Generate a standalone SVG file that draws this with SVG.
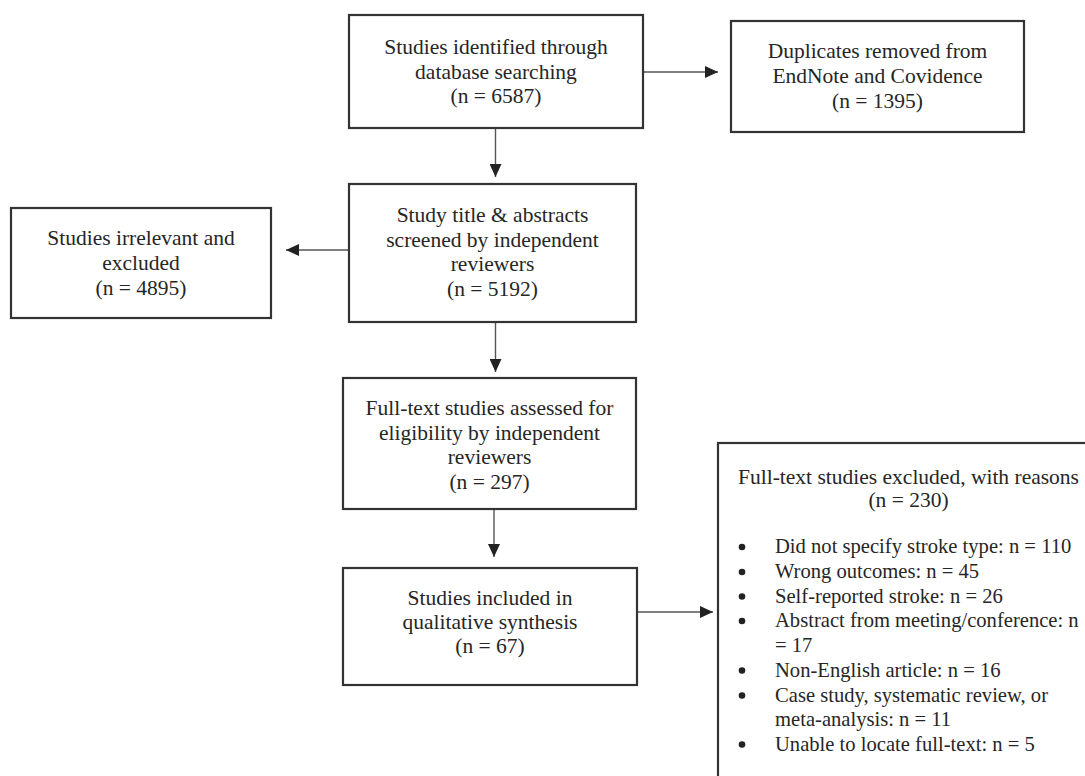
<svg xmlns="http://www.w3.org/2000/svg" width="1085" height="776" viewBox="0 0 1085 776">
<defs>
<style>
.box{fill:#fff;stroke:#333;stroke-width:2.2}
.t{font-family:"Liberation Serif","Times New Roman",serif;font-size:21.5px;fill:#262626}
.b{font-size:20.6px}
.c{text-anchor:middle}
.ln{fill:none;stroke:#555;stroke-width:1.4}
.dot{fill:#222}
</style>
<marker id="ah" markerUnits="userSpaceOnUse" markerWidth="13" markerHeight="12" refX="13" refY="6" orient="auto">
<path d="M0,0 L13,6 L0,12 z" fill="#222"/>
</marker>
</defs>
<rect width="1085" height="776" fill="#fff"/>
<g id="connectors">
<path class="ln" d="M643,72 H718" marker-end="url(#ah)"/>
<path class="ln" d="M495.5,128 V177" marker-end="url(#ah)"/>
<path class="ln" d="M349,250 H286" marker-end="url(#ah)"/>
<path class="ln" d="M495.5,322 V372" marker-end="url(#ah)"/>
<path class="ln" d="M494,509 V557" marker-end="url(#ah)"/>
<path class="ln" d="M637,612 H713" marker-end="url(#ah)"/>
</g>
<g id="identified">
<rect class="box" x="349" y="15" width="294" height="113"/>
<text class="t c" x="496" y="54">Studies identified through</text>
<text class="t c" x="496" y="78.5">database searching</text>
<text class="t c" x="496" y="103">(n = 6587)</text>
</g>
<g id="duplicates">
<rect class="box" x="731" y="21" width="293" height="111"/>
<text class="t c" x="877.5" y="58">Duplicates removed from</text>
<text class="t c" x="877.5" y="83">EndNote and Covidence</text>
<text class="t c" x="877.5" y="108">(n = 1395)</text>
</g>
<g id="screened">
<rect class="box" x="349" y="184" width="287" height="138"/>
<text class="t c" x="492.5" y="222">Study title &amp; abstracts</text>
<text class="t c" x="492.5" y="246.5">screened by independent</text>
<text class="t c" x="492.5" y="271">reviewers</text>
<text class="t c" x="492.5" y="296">(n = 5192)</text>
</g>
<g id="irrelevant">
<rect class="box" x="11" y="208" width="260" height="110"/>
<text class="t c" x="141" y="245">Studies irrelevant and</text>
<text class="t c" x="141" y="270">excluded</text>
<text class="t c" x="141" y="295">(n = 4895)</text>
</g>
<g id="fulltext">
<rect class="box" x="343" y="378" width="293" height="131"/>
<text class="t c" x="489.5" y="415">Full-text studies assessed for</text>
<text class="t c" x="489.5" y="439.5">eligibility by independent</text>
<text class="t c" x="489.5" y="464">reviewers</text>
<text class="t c" x="489.5" y="488.5">(n = 297)</text>
</g>
<g id="included">
<rect class="box" x="343" y="568" width="294" height="117"/>
<text class="t c" x="490" y="605">Studies included in</text>
<text class="t c" x="490" y="629">qualitative synthesis</text>
<text class="t c" x="490" y="653">(n = 67)</text>
</g>
<g id="excluded">
<rect class="box" x="718" y="443" width="400" height="400"/>
<text class="t c" x="908.5" y="484">Full-text studies excluded, with reasons</text>
<text class="t c" x="908.5" y="507">(n = 230)</text>
<circle class="dot" cx="742" cy="547" r="3.3"/>
<circle class="dot" cx="742" cy="572" r="3.3"/>
<circle class="dot" cx="742" cy="596.5" r="3.3"/>
<circle class="dot" cx="742" cy="621" r="3.3"/>
<circle class="dot" cx="742" cy="670.5" r="3.3"/>
<circle class="dot" cx="742" cy="695.5" r="3.3"/>
<circle class="dot" cx="742" cy="744.5" r="3.3"/>
<text class="t b" x="775" y="553">Did not specify stroke type: n = 110</text>
<text class="t b" x="775" y="578">Wrong outcomes: n = 45</text>
<text class="t b" x="775" y="602.5">Self-reported stroke: n = 26</text>
<text class="t b" x="775" y="627">Abstract from meeting/conference: n</text>
<text class="t b" x="775" y="652">= 17</text>
<text class="t b" x="775" y="676.5">Non-English article: n = 16</text>
<text class="t b" x="775" y="701.5">Case study, systematic review, or</text>
<text class="t b" x="775" y="726">meta-analysis: n = 11</text>
<text class="t b" x="775" y="750.5">Unable to locate full-text: n = 5</text>
</g>
</svg>
